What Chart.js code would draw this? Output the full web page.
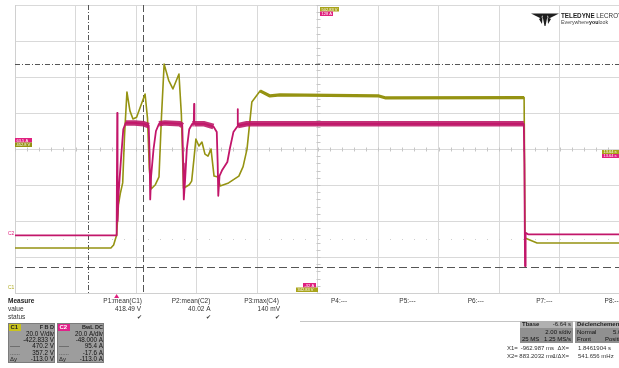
<!DOCTYPE html>
<html>
<head>
<meta charset="utf-8">
<title>C1 / C2 capture</title>
<script src="https://cdn.jsdelivr.net/npm/chart.js@4"></script>
<style>
  html, body { margin: 0; padding: 0; background: #fff; }
  #wrap { width: 619px; height: 368px; overflow: hidden; }
  canvas { display: block; }
</style>
</head>
<body>
<div id="wrap"><canvas id="scope" width="621" height="368"></canvas></div>
<script>
// timebase / channel setup
const timePerDiv = 2;          // s/div
const timeDelay = -6.64;       // Tbase
const timeLeft = -5 * timePerDiv - timeDelay;
const voltsPerDiv = 20;        // C1
const voltsOffset = -422.833;
const ampsPerDiv = 20;         // C2
const ampsOffset = -48;

// C1 (olive), seconds / volts
const c1Time = [-3.36, -0.19, -0.10, 0.00, 0.06, 0.12, 0.20, 0.26, 0.34, 0.44, 0.54, 0.66, 0.78, 0.94, 1.02, 1.08, 1.14, 1.28, 1.40, 1.48, 1.57, 1.72, 1.86, 2.06, 2.14, 2.21, 2.40, 2.48, 2.56, 2.62, 2.72, 2.82, 2.92, 3.02, 3.12, 3.22, 3.35, 3.42, 3.70, 4.04, 4.18, 4.31, 4.47, 4.74, 5.07, 5.40, 8.67, 8.90, 13.47, 13.50, 13.90, 16.64];
const c1Volts = [367.8, 367.8, 369.5, 375, 392, 398, 404, 430, 454.5, 444, 439.5, 440.5, 446, 453.4, 440, 412, 400.6, 403, 407.3, 440, 470.0, 461, 456.2, 464.5, 442, 401, 403, 405, 418, 428.4, 424.5, 426.7, 420, 418.9, 422.8, 407.8, 407.3, 402.3, 404, 407.8, 413, 422.8, 449, 455.1, 452.3, 452.9, 452.3, 451.2, 451.4, 373.4, 370.6, 370.6];

// C2 (magenta), seconds / amps
const c2Time = [-3.36, 0.00, 0.02, 0.03, 0.06, 0.10, 0.16, 0.22, 0.30, 0.60, 0.90, 1.06, 1.09, 1.11, 1.14, 1.22, 1.30, 1.40, 1.60, 2.10, 2.17, 2.20, 2.22, 2.26, 2.32, 2.40, 2.50, 2.55, 2.56, 2.57, 2.90, 3.20, 3.31, 3.34, 3.36, 3.40, 3.48, 3.66, 3.74, 3.86, 3.99, 4.00, 4.01, 4.30, 13.46, 13.48, 13.50, 13.52, 13.60, 16.64];
const c2Amps = [0.0, 0.0, 68, 8, 22, 32, 46, 59, 62.5, 62.5, 62, 61, 45, 20, 33, 48, 58, 62, 62.5, 62, 61, 40, 20, 30, 48, 59, 62, 62, 73, 62, 62, 60.5, 57.4, 40, 22, 33, 36, 40.8, 48, 57.4, 60.5, 70.2, 61, 62, 62, 40, -17, 1.5, 0.6, 0.6];

// cursors
const cursorTimes = [-0.962987, 0.8832032];
const cursorVolts = [470.2, 357.2];
const refLevelAmps = -2;

// measurement row
const measureNames = ['P1:mean(C1)', 'P2:mean(C2)', 'P3:max(C4)', 'P4:---', 'P5:---', 'P6:---', 'P7:---', 'P8:---'];
const measureValues = ['418.49 V', '40.02 A', '140 mV'];

// channel descriptors
const c1Info = ['20.0 V/div', '-422.833 V', '470.2 V', '357.2 V', '-113.0 V'];
const c2Info = ['20.0 A/div', '-48.000 A', '95.4 A', '-17.6 A', '-113.0 A'];
const infoKeys = ['', '', '-----', '......', 'Δy'];

const PINK = '#c2166a';
const OLIVE = '#959312';
const FONT = '"Liberation Sans", Arial, sans-serif';

const c1Points = c1Time.map((t, i) => ({ x: t, y: c1Volts[i] }));
const c2Points = c2Time.map((t, i) => ({ x: t, y: c2Amps[i] }));
// noisy plateau bands
const c2Band = c2Points.map(p => ({ x: p.x, y: (p.y >= 60.4 && p.y <= 64.5) ? p.y : null }));
const c1Band = c1Points.map(p => ({ x: p.x, y: (p.x > 4.6 && p.y > 450) ? p.y : null }));

function divTicks(scale, center, perDiv, n) {
  const ticks = [];
  for (let i = 0; i <= n; i++) ticks.push({ value: center + (i - n / 2) * perDiv });
  scale.ticks = ticks;
}

function txt(ctx, s, x, y, align, font, color) {
  ctx.font = font + ' ' + FONT;
  ctx.textAlign = align;
  ctx.textBaseline = 'middle';
  ctx.fillStyle = color;
  ctx.fillText(s, x, y);
}

function tag(ctx, x, y, w, h, fill, s) {
  ctx.fillStyle = fill;
  ctx.fillRect(x, y, w, h);
  txt(ctx, s, x + 1.5, y + h / 2 + 0.3, 'left', '4px', '#fff');
}

function seg(ctx, x1, y1, x2, y2) {
  ctx.beginPath();
  ctx.moveTo(x1, y1);
  ctx.lineTo(x2, y2);
  ctx.stroke();
}

const scopeChrome = {
  id: 'scopeChrome',
  beforeDatasetsDraw(chart) {
    const { ctx, chartArea: a, scales } = chart;
    const cx = Math.round(scales.x.getPixelForValue(timeLeft + 5 * timePerDiv)) + 0.5;
    const cy = Math.round(scales.yV.getPixelForValue(-voltsOffset)) + 0.5;
    ctx.save();
    ctx.lineWidth = 1;
    ctx.strokeStyle = '#c6c6c6';
    for (let i = 0; i <= 50; i++) {
      const px = Math.round(a.left + i * a.width / 50) + 0.5;
      seg(ctx, px, cy - 2, px, cy + 2);
    }
    for (let i = 0; i <= 40; i++) {
      const py = Math.round(a.top + i * a.height / 40) + 0.5;
      seg(ctx, cx - 2, py, cx + 2, py);
    }
    // reference level dots
    const ry = Math.round(scales.yA.getPixelForValue(refLevelAmps)) + 0.5;
    ctx.fillStyle = '#cfcfcf';
    for (let i = 0; i <= 50; i++) ctx.fillRect(Math.round(a.left + i * a.width / 50), ry - 0.5, 1, 1);

    // cursors
    ctx.strokeStyle = '#555';
    const x1 = Math.round(scales.x.getPixelForValue(cursorTimes[0])) + 0.5;
    const x2 = Math.round(scales.x.getPixelForValue(cursorTimes[1])) + 0.5;
    const y1 = Math.round(scales.yV.getPixelForValue(cursorVolts[0])) + 0.5;
    const y2 = Math.round(scales.yV.getPixelForValue(cursorVolts[1])) + 0.5;
    ctx.setLineDash([5, 2, 1, 2]);
    seg(ctx, x1, a.top, x1, a.bottom);
    seg(ctx, a.left, y1, a.right, y1);
    ctx.setLineDash([7, 3]);
    seg(ctx, x2, a.top, x2, a.bottom);
    ctx.setLineDash([8, 4]);
    seg(ctx, a.left, y2, a.right, y2);
    ctx.restore();
  },
  afterDraw(chart) {
    const { ctx, scales } = chart;
    ctx.save();
    // channel tags around the grid
    tag(ctx, 15, 138, 17, 4.5, '#e0207f', '63.5 A');
    tag(ctx, 15, 142.5, 17, 4.5, OLIVE, '452.8 V');
    tag(ctx, 320, 7, 19, 4.5, '#a9a41a', '502.83 V');
    tag(ctx, 320, 11.5, 13, 4.5, '#e0207f', '128 A');
    tag(ctx, 602, 150, 19, 4, '#a9a41a', '13.64 s');
    tag(ctx, 602, 154, 19, 4, '#e0207f', '13.64 s');
    tag(ctx, 303, 283, 13, 4.5, '#e0207f', '-32 A');
    tag(ctx, 296, 287.5, 22, 4.5, '#a9a41a', '342.83 V');
    txt(ctx, 'C2', 8, 234, 'left', '5px', '#e0207f');
    txt(ctx, 'C1', 8, 288, 'left', '5px', '#b0ab20');

    // trigger position
    const tx = scales.x.getPixelForValue(0);
    ctx.fillStyle = '#e0207f';
    ctx.beginPath();
    ctx.moveTo(tx, 294);
    ctx.lineTo(tx - 2.5, 298);
    ctx.lineTo(tx + 2.5, 298);
    ctx.fill();

    // measure table
    txt(ctx, 'Measure', 8, 301, 'left', 'bold 6.5px', '#222');
    txt(ctx, 'value', 8, 309, 'left', '6.5px', '#333');
    txt(ctx, 'status', 8, 317, 'left', '6.5px', '#333');
    measureNames.forEach((n, i) => txt(ctx, n, 142 + i * 68.4, 301, 'right', '6.5px', '#333'));
    measureValues.forEach((v, i) => txt(ctx, v, 141 + i * 69.5, 309, 'right', '6.5px', '#333'));
    measureValues.forEach((v, i) => txt(ctx, '✔', 139 + i * 69, 317, 'center', '6px', '#333'));
    ctx.fillStyle = '#c4c4c4';
    ctx.fillRect(300, 321, 319, 1);

    // channel boxes
    const boxes = [
      { x: 8, label: 'C1', color: '#c9c31e', head: 'F B D', rows: c1Info },
      { x: 57, label: 'C2', color: '#e0228a', head: 'BwL DC', rows: c2Info }
    ];
    boxes.forEach(b => {
      ctx.fillStyle = '#9d9d9d';
      ctx.fillRect(b.x, 323, 47, 40);
      ctx.strokeStyle = '#7c7c7c';
      ctx.strokeRect(b.x + 0.5, 323.5, 46, 39);
      ctx.fillStyle = b.color;
      ctx.fillRect(b.x + 1, 324, 12, 7);
      txt(ctx, b.label, b.x + 2.5, 327.8, 'left', 'bold 6px', b.label === 'C1' ? '#222' : '#fff');
      txt(ctx, b.head, b.x + 46, 327.5, 'right', 'bold 5.5px', '#222');
      b.rows.forEach((r, i) => {
        const y = 334 + i * 6.3;
        txt(ctx, r, b.x + 46, y, 'right', '6.3px', '#111');
        if (infoKeys[i]) txt(ctx, infoKeys[i], b.x + 2, y, 'left', '6px', '#222');
      });
    });

    // timebase / trigger boxes
    ctx.fillStyle = '#909090';
    ctx.fillRect(520, 321, 53, 22);
    ctx.fillRect(575, 321, 46, 22);
    ctx.fillStyle = '#b1b1b1';
    ctx.fillRect(520, 321, 53, 7);
    ctx.fillRect(575, 321, 46, 7);
    txt(ctx, 'Tbase', 522, 324.7, 'left', 'bold 6px', '#222');
    txt(ctx, '-6.64 s', 571, 324.7, 'right', '6px', '#222');
    txt(ctx, '2.00 s/div', 571, 332, 'right', '6px', '#111');
    txt(ctx, '25 MS', 522, 339, 'left', '6px', '#111');
    txt(ctx, '1.25 MS/s', 571, 339, 'right', '6px', '#111');
    txt(ctx, 'Déclenchement', 577, 324.7, 'left', 'bold 6px', '#222');
    txt(ctx, 'Normal', 577, 332, 'left', '6px', '#111');
    txt(ctx, '5.0 A', 613, 332, 'left', '6px', '#111');
    txt(ctx, 'Front', 577, 339, 'left', '6px', '#111');
    txt(ctx, 'Positive', 605, 339, 'left', '6px', '#111');
    txt(ctx, 'X1=', 507, 348, 'left', '6px', '#333');
    txt(ctx, '-962.987 ms', 554, 348, 'right', '6px', '#333');
    txt(ctx, 'ΔX=', 569, 348, 'right', '6px', '#333');
    txt(ctx, '1.8461904 s', 578, 348, 'left', '6px', '#333');
    txt(ctx, 'X2=', 507, 356, 'left', '6px', '#333');
    txt(ctx, '883.2032 ms', 554, 356, 'right', '6px', '#333');
    txt(ctx, '1/ΔX=', 569, 356, 'right', '6px', '#333');
    txt(ctx, '541.656 mHz', 578, 356, 'left', '6px', '#333');

    // logo
    ctx.fillStyle = '#1e1e1e';
    ctx.beginPath();
    ctx.moveTo(531, 13.5); ctx.lineTo(543, 13.5); ctx.lineTo(541, 18.5); ctx.closePath();
    ctx.moveTo(547, 13.5); ctx.lineTo(559, 13.5); ctx.lineTo(549, 18.5); ctx.closePath();
    ctx.moveTo(542, 13.5); ctx.lineTo(548, 13.5); ctx.lineTo(545.5, 26); ctx.lineTo(544.5, 26); ctx.closePath();
    ctx.moveTo(539, 19); ctx.lineTo(542.5, 17); ctx.lineTo(542, 24); ctx.closePath();
    ctx.moveTo(551, 19); ctx.lineTo(547.5, 17); ctx.lineTo(548, 24); ctx.closePath();
    ctx.fill();
    txt(ctx, 'TELEDYNE', 561, 16, 'left', 'bold 6.3px', '#1e1e1e');
    ctx.font = 'bold 6.3px ' + FONT;
    const tw = ctx.measureText('TELEDYNE ').width;
    txt(ctx, 'LECROY', 561 + tw, 16, 'left', '6.3px', '#333');
    txt(ctx, 'Everywhere', 561, 22.5, 'left', '5.3px', '#444');
    ctx.font = '5.3px ' + FONT;
    const ew = ctx.measureText('Everywhere').width;
    txt(ctx, 'you', 561 + ew, 22.5, 'left', 'bold 5.3px', '#222');
    ctx.font = 'bold 5.3px ' + FONT;
    const yw = ctx.measureText('you').width;
    txt(ctx, 'look', 561 + ew + yw, 22.5, 'left', '5.3px', '#444');
    ctx.restore();
  }
};

const gridStyle = { color: '#d9d9d9', lineWidth: 1, drawTicks: false };

new Chart(document.getElementById('scope'), {
  type: 'line',
  data: {
    datasets: [
      { label: 'C1', data: c1Points, yAxisID: 'yV', borderColor: OLIVE, borderWidth: 1.6, order: 4 },
      { label: 'C1 band', data: c1Band, yAxisID: 'yV', borderColor: OLIVE, borderWidth: 3.2, borderJoinStyle: 'bevel', order: 3 },
      { label: 'C2 band', data: c2Band, yAxisID: 'yA', borderColor: 'rgba(186,20,100,0.88)', borderWidth: 5.5, borderJoinStyle: 'bevel', order: 2 },
      { label: 'C2', data: c2Points, yAxisID: 'yA', borderColor: PINK, borderWidth: 1.8, order: 1 }
    ]
  },
  options: {
    responsive: false,
    animation: false,
    events: [],
    layout: { padding: { left: 15, right: 1, top: 5, bottom: 75 } },
    elements: {
      point: { radius: 0 },
      line: { tension: 0, borderJoinStyle: 'round', spanGaps: false }
    },
    plugins: { legend: { display: false }, tooltip: { enabled: false } },
    scales: {
      x: {
        type: 'linear',
        min: timeLeft,
        max: timeLeft + 10 * timePerDiv,
        afterBuildTicks: s => divTicks(s, timeLeft + 5 * timePerDiv, timePerDiv, 10),
        ticks: { display: false },
        grid: gridStyle,
        border: { display: true, color: '#d0d0d0' }
      },
      yV: {
        type: 'linear',
        position: 'left',
        min: -voltsOffset - 4 * voltsPerDiv,
        max: -voltsOffset + 4 * voltsPerDiv,
        afterBuildTicks: s => divTicks(s, -voltsOffset, voltsPerDiv, 8),
        ticks: { display: false },
        grid: gridStyle,
        border: { display: true, color: '#d0d0d0' }
      },
      yA: {
        type: 'linear',
        display: false,
        min: -ampsOffset - 4 * ampsPerDiv,
        max: -ampsOffset + 4 * ampsPerDiv
      }
    }
  },
  plugins: [scopeChrome]
});
</script>
</body>
</html>
